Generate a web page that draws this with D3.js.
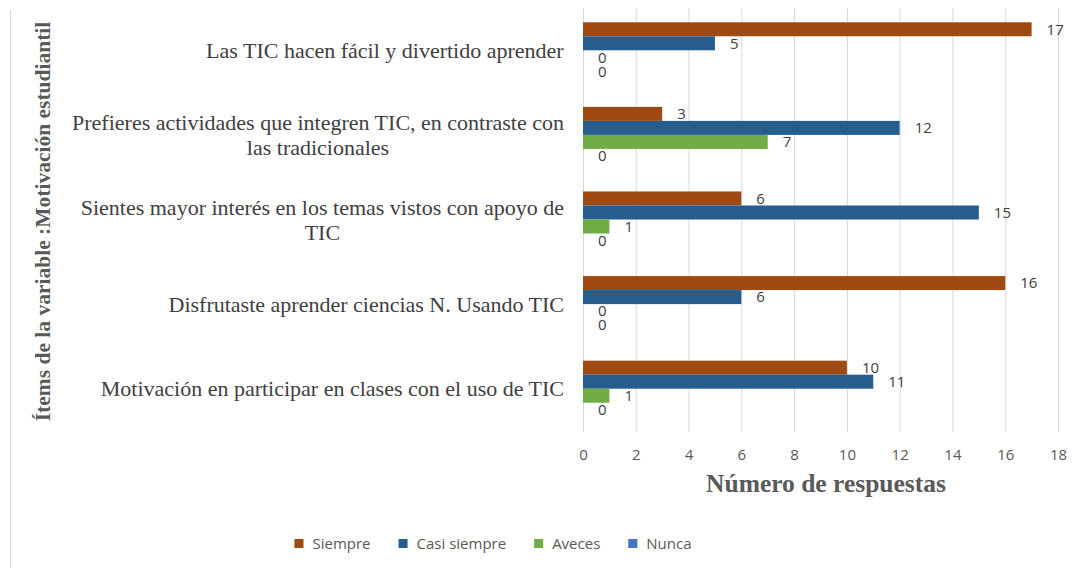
<!DOCTYPE html>
<html>
<head>
<meta charset="utf-8">
<script src="https://cdn.jsdelivr.net/npm/d3@7"></script>
<style>
  body { margin: 0; background: #fff; }
  svg { display: block; }
</style>
</head>
<body>
<div id="chart"></div>
<script>
// data
const categories = [
  "Las TIC hacen fácil y divertido aprender",
  "Prefieres actividades que integren TIC, en contraste con\nlas tradicionales",
  "Sientes mayor interés en los temas vistos con apoyo de\nTIC",
  "Disfrutaste aprender ciencias N. Usando TIC",
  "Motivación en participar en clases con el uso de TIC"
];
const seriesNames = ["Siempre", "Casi siempre", "Aveces", "Nunca"];
const siempre = [17, 3, 6, 16, 10];
const casiSiempre = [5, 12, 15, 6, 11];
const aveces = [0, 7, 1, 0, 1];
const nunca = [0, 0, 0, 0, 0];
const xTicks = [0, 2, 4, 6, 8, 10, 12, 14, 16, 18];
const colors = ["#9e4a12", "#265d8f", "#70ad47", "#4472c4"];

const seriesValues = [siempre, casiSiempre, aveces, nunca];

const width = 1090, height = 568;
const margin = { top: 8, left: 583, right: 32, bottom: 137 };
const plotBottom = height - margin.bottom;

const svg = d3.select("#chart").append("svg")
  .attr("width", width)
  .attr("height", height);

// chart frame line on the left
svg.append("line")
  .attr("x1", 10.5).attr("x2", 10.5)
  .attr("y1", 10).attr("y2", height)
  .attr("stroke", "#d9d9d9");

const x = d3.scaleLinear().domain([0, 18]).range([margin.left, width - margin.right]);
const y = d3.scaleBand().domain(categories)
  .range([margin.top, plotBottom])
  .paddingInner(0.337).paddingOuter(0.1685);
const y1 = d3.scaleBand().domain(seriesNames).range([0, y.bandwidth()]);
const color = d3.scaleOrdinal(seriesNames, colors);

// gridlines
svg.append("g")
  .attr("transform", `translate(0,${plotBottom + 1})`)
  .call(d3.axisBottom(x).tickValues(xTicks).tickSize(-(plotBottom + 1 - margin.top)).tickFormat(""))
  .call(g => g.select(".domain").remove())
  .call(g => g.selectAll("line").attr("stroke", "#d9d9d9"));

// tick labels
svg.append("g")
  .attr("transform", "translate(0,455)")
  .call(d3.axisBottom(x).tickValues(xTicks).tickSize(0))
  .call(g => g.select(".domain").remove())
  .call(g => g.selectAll("text")
    .attr("y", 0)
    .attr("dy", "0.35em")
    .attr("font-family", "Open Sans, sans-serif")
    .attr("font-size", 15)
    .attr("fill", "#595959"));

// bars
const rows = categories.map((c, i) => ({
  cat: c,
  vals: seriesNames.map((s, j) => ({ s: s, v: seriesValues[j][i] }))
}));

const groups = svg.append("g").selectAll("g")
  .data(rows)
  .enter()
  .append("g")
  .attr("transform", d => `translate(0,${y(d.cat)})`);

groups.selectAll("rect")
  .data(d => d.vals)
  .enter()
  .append("rect")
  .attr("x", x(0))
  .attr("y", d => y1(d.s))
  .attr("width", d => x(d.v) - x(0))
  .attr("height", y1.bandwidth())
  .attr("fill", d => color(d.s));

groups.selectAll("text.val")
  .data(d => d.vals)
  .enter()
  .append("text")
  .attr("class", "val")
  .attr("x", d => x(d.v) + 15)
  .attr("y", d => y1(d.s) + y1.bandwidth() / 2)
  .attr("dy", "0.35em")
  .attr("font-family", "Open Sans, sans-serif")
  .attr("font-size", 15)
  .attr("fill", "#404040")
  .text(d => d.v);

// category labels, wrapped lines centered, block right aligned
const labelRight = 564;
const labels = svg.append("g").selectAll("text")
  .data(categories)
  .enter()
  .append("text")
  .attr("font-family", "Liberation Serif, serif")
  .attr("font-size", 22)
  .attr("fill", "#404040")
  .attr("text-anchor", "middle");

labels.each(function (c) {
  const t = d3.select(this);
  const lines = c.split("\n");
  const lineH = 25;
  const cy = y(c) + y.bandwidth() / 2;
  lines.forEach((ln, k) => {
    t.append("tspan").text(ln)
      .attr("x", 0)
      .attr("y", cy + (k - (lines.length - 1) / 2) * lineH)
      .attr("dy", "0.35em");
  });
  const w = this.getBBox().width;
  t.selectAll("tspan").attr("x", labelRight - w / 2);
});

// axis titles
svg.append("text")
  .attr("transform", `translate(50,${(margin.top + plotBottom) / 2 + 2}) rotate(-90)`)
  .attr("text-anchor", "middle")
  .attr("font-family", "Liberation Serif, serif")
  .attr("font-weight", "bold")
  .attr("font-size", 21.5)
  .attr("fill", "#595959")
  .text("Ítems de la variable :Motivación estudiantil");

svg.append("text")
  .attr("x", 826)
  .attr("y", 492)
  .attr("text-anchor", "middle")
  .attr("font-family", "Liberation Serif, serif")
  .attr("font-weight", "bold")
  .attr("font-size", 25.5)
  .attr("fill", "#595959")
  .text("Número de respuestas");

// legend
const legend = svg.append("g");
let lx = 0;
const items = legend.selectAll("g")
  .data(seriesNames)
  .enter()
  .append("g");
items.append("rect")
  .attr("y", -5)
  .attr("width", 9).attr("height", 9)
  .attr("fill", d => color(d));
items.append("text")
  .attr("x", 18)
  .attr("dy", "0.35em")
  .attr("font-family", "Open Sans, sans-serif")
  .attr("font-size", 15)
  .attr("fill", "#595959")
  .text(d => d);
items.each(function () {
  d3.select(this).attr("transform", `translate(${lx},0)`);
  lx += this.getBBox().width + 28;
});
const legendW = lx - 28;
legend.attr("transform", `translate(${493 - legendW / 2},544)`);
</script>
</body>
</html>
